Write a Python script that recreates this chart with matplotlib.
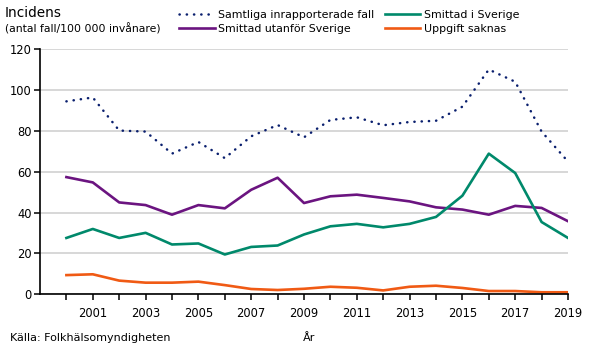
import numpy as np
import matplotlib.pyplot as plt

plt.rcParams['font.family'] = ['DejaVu Sans']

years = list(range(2000, 2020))
samtliga = [94.5, 96.4, 80.2, 79.7, 68.9, 74.6, 66.7, 77.4, 82.9, 76.9,
            85.4, 86.7, 82.8, 84.4, 85.0, 91.9, 110.1, 104.1, 79.7, 65.0]
utanfor = [57.4, 54.8, 45.0, 43.7, 39.0, 43.7, 42.1, 51.2, 57.1, 44.7,
           48.0, 48.8, 47.2, 45.5, 42.6, 41.5, 39.0, 43.3, 42.3, 35.8]
sverige = [27.6, 32.0, 27.6, 30.1, 24.4, 24.9, 19.5, 23.2, 23.9, 29.3,
           33.3, 34.5, 32.8, 34.5, 37.9, 48.3, 68.9, 59.4, 35.4, 27.6]
saknas = [9.4, 9.8, 6.7, 5.7, 5.7, 6.2, 4.5, 2.6, 2.1, 2.7,
          3.7, 3.2, 1.9, 3.7, 4.2, 3.1, 1.6, 1.6, 1.0, 1.0]
labels = ['Samtliga inrapporterade fall', 'Smittad utanför Sverige',
          'Smittad i Sverige', 'Uppgift saknas']

fig = plt.figure(figsize=(5.9, 3.48), dpi=100)
ax = fig.add_axes([40/590, 1-294.3/348, 528/590, 245/348])

l1, = ax.plot(years, samtliga, color='#0a1f6e', lw=1.8,
              linestyle=(0, (0.1, 2.8)), dash_capstyle='round')
l2, = ax.plot(years, utanfor, color='#6b1480', lw=1.9)
l3, = ax.plot(years, sverige, color='#00896b', lw=1.9)
l4, = ax.plot(years, saknas, color='#f05a14', lw=1.9)

ax.set_xlim(1999, 2019)
ax.set_ylim(0, 120)
ax.set_yticks(range(0, 121, 20))
ax.set_xticks(years)
ax.set_xticklabels([str(y) if y % 2 == 1 else '' for y in years])
ax.grid(axis='y', color='#d4d4d4', lw=1.3)
ax.set_axisbelow(True)
for s in ['top', 'right']:
    ax.spines[s].set_visible(False)
ax.spines['left'].set_linewidth(1.2)
ax.spines['bottom'].set_linewidth(1.2)
ax.tick_params(axis='both', labelsize=8.3, length=4, width=1.1, pad=2)
ax.tick_params(axis='x', pad=5)

fig.text(5/590, 1-13/348, 'Incidens', fontsize=9.8, va='center')
fig.text(5/590, 1-29/348, '(antal fall/100 000 invånare)', fontsize=7.8, va='center')
fig.text(10/590, 1-338/348, 'Källa: Folkhälsomyndigheten', fontsize=8.0, va='center')
fig.text(303/590, 1-338/348, 'År', fontsize=8.0, va='center')

fig.legend([l1, l2, l3, l4], labels, ncol=2, loc='center left',
           bbox_to_anchor=(174/590, 1-22/348), frameon=False, fontsize=7.9,
           handlelength=3.2, handletextpad=0.35, columnspacing=0.9,
           labelspacing=0.35, borderpad=0)

fig.savefig('out.png', dpi=100)
